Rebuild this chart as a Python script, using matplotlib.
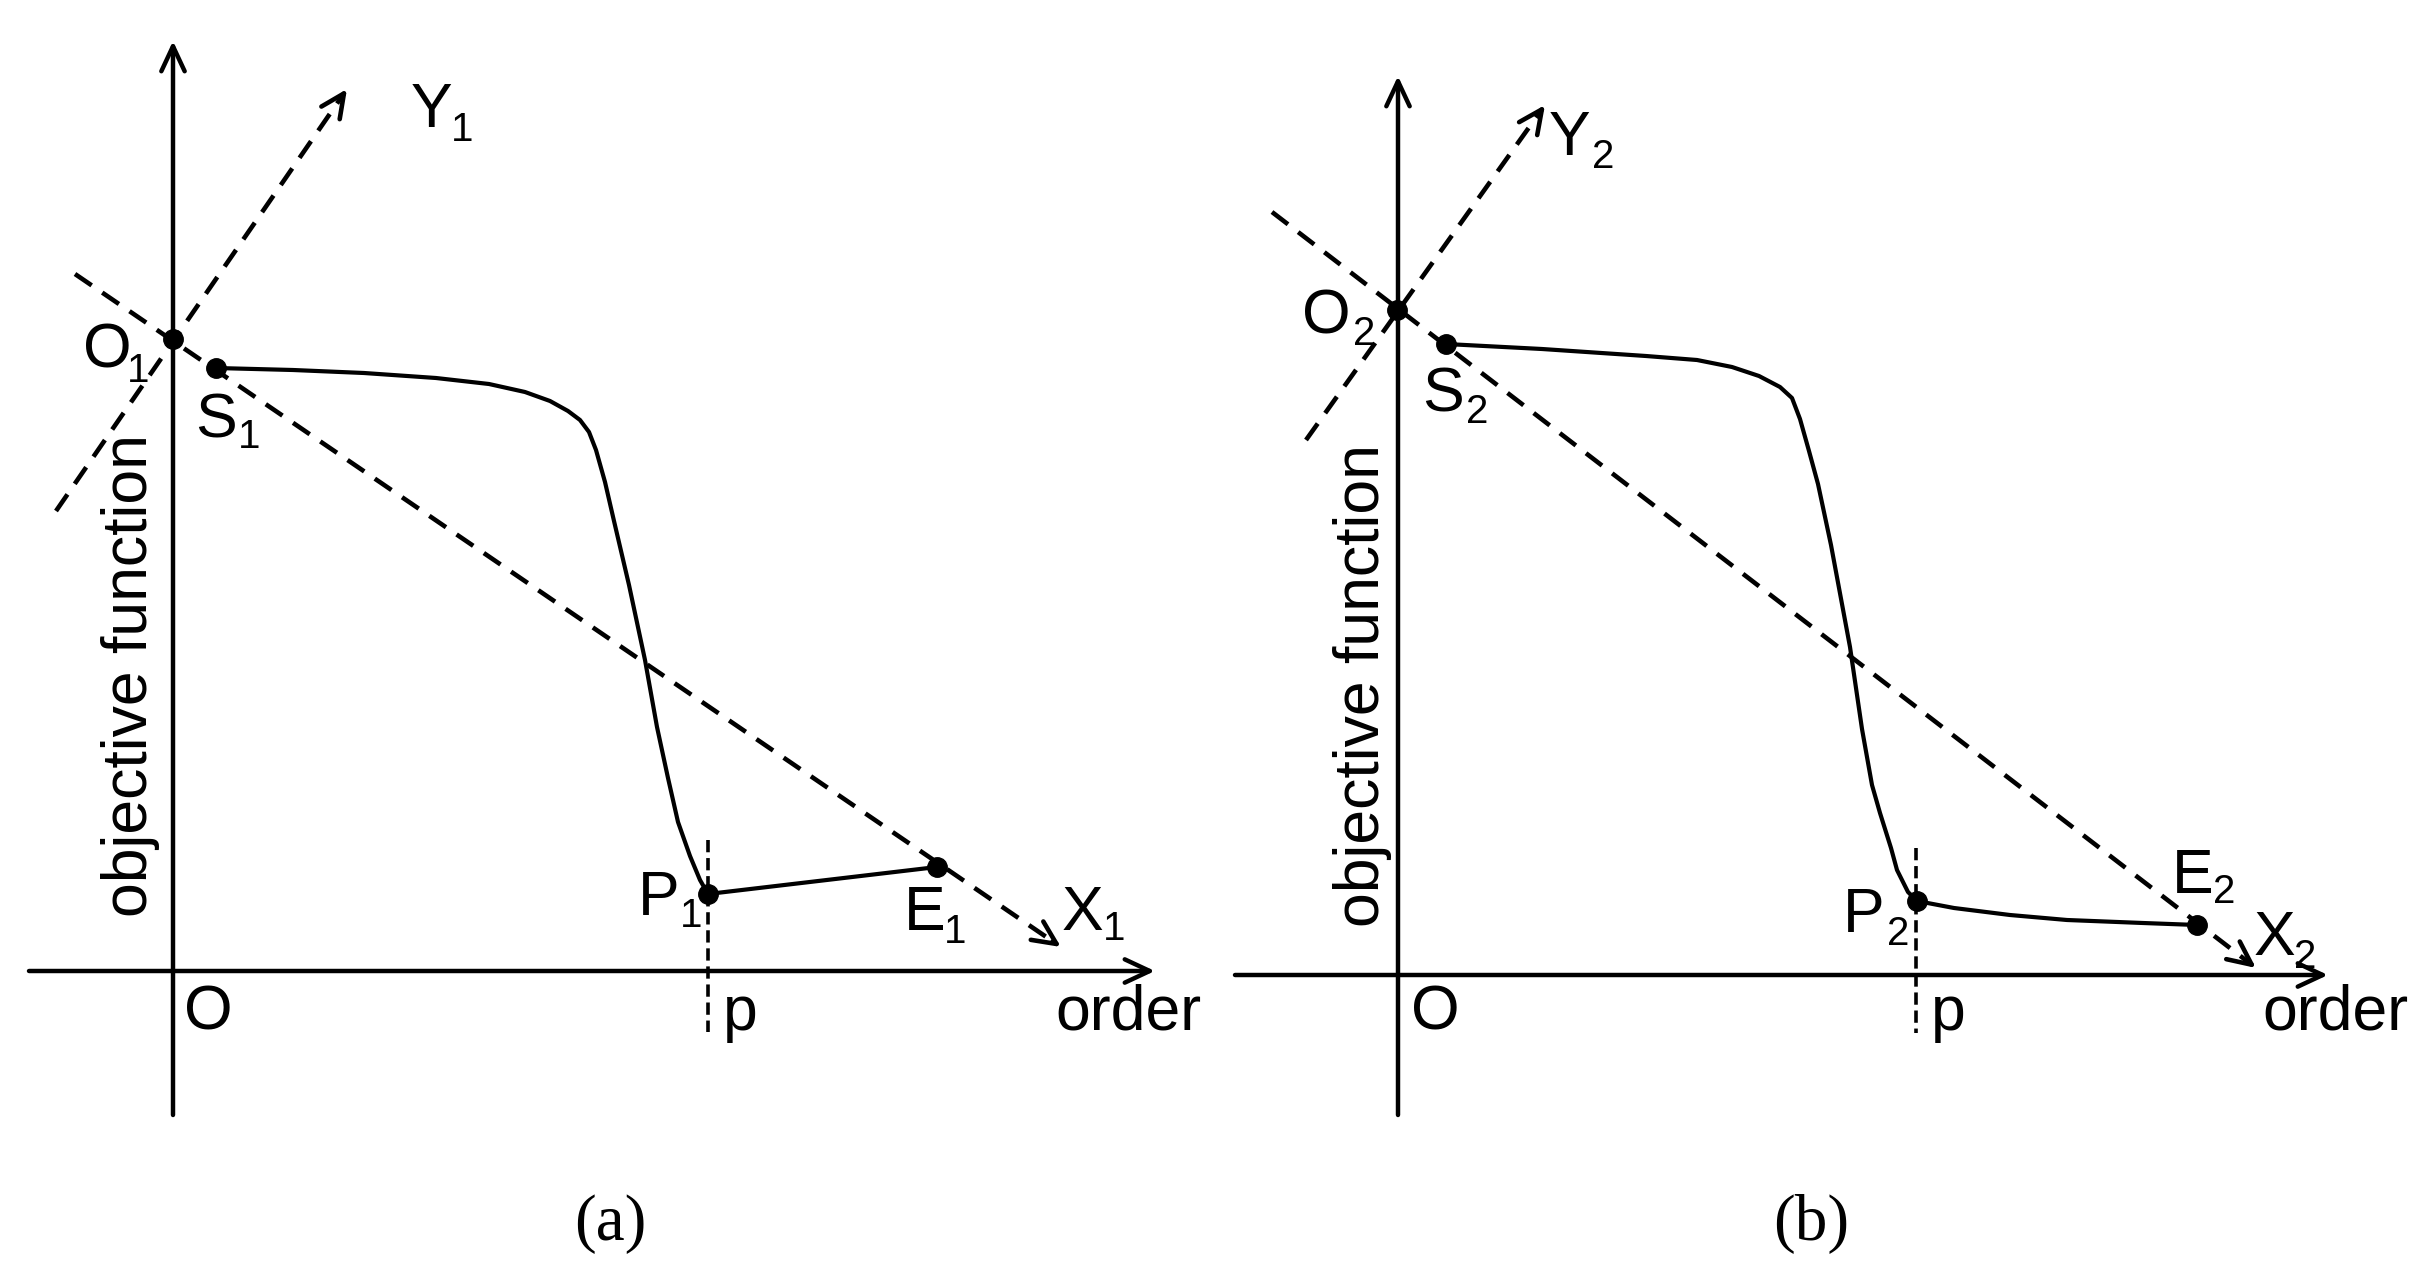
import numpy as np
import matplotlib
matplotlib.use('Agg')
import matplotlib.pyplot as plt

W, H = 2433, 1280

# ---------------- Panel (a) ----------------
a_yaxis_x = [173, 173]
a_yaxis_y = [1115, 41]
a_xaxis_x = [29, 1155]
a_xaxis_y = [971, 971]
a_X1_x = [75, 1061]
a_X1_y = [274, 947]
a_Y1_x = [56, 347]
a_Y1_y = [511, 89]
a_curve_x = [216, 293, 364, 436, 489, 525, 550, 568, 580, 589, 596, 605, 614,
             629, 645, 657, 668, 678, 690, 700, 708]
a_curve_y = [368, 370, 373, 378, 384, 392, 401, 411, 420, 432, 450, 482, 521,
             585, 660, 727, 778, 822, 856, 880, 894]
a_tail_x = [708, 937]
a_tail_y = [894, 867]
a_pline_x = [708, 708]
a_pline_y = [840, 1032]
a_pts_x = [173, 216, 708, 937]
a_pts_y = [339, 368, 894, 867]

# ---------------- Panel (b) ----------------
b_yaxis_x = [1398, 1398]
b_yaxis_y = [1115, 76]
b_xaxis_x = [1235, 2328]
b_xaxis_y = [975, 975]
b_X2_x = [1272, 2256]
b_X2_y = [212, 968]
b_Y2_x = [1306, 1545]
b_Y2_y = [440, 105]
b_curve_x = [1446, 1542, 1646, 1697, 1732, 1759, 1780, 1792, 1800, 1809, 1818,
             1831, 1850, 1862, 1872, 1880, 1891, 1897, 1908, 1917]
b_curve_y = [344, 349, 356, 360, 367, 376, 387, 398, 419, 451, 484,
             545, 647, 729, 785, 813, 848, 870, 892, 901]
b_tail_x = [1917, 1954, 2010, 2067, 2143, 2197]
b_tail_y = [901, 908, 915, 920, 923, 925]
b_pline_x = [1916, 1916]
b_pline_y = [848, 1033]
b_pts_x = [1397, 1446, 1917, 2197]
b_pts_y = [310, 344, 901, 925]

# ---------------- Labels ----------------
# (text, x, baseline-y, kind)
labels = [
    ("Y", 431, 127, "main"), ("1", 462, 141, "sub"),
    ("O", 107, 368, "main"), ("1", 138, 382, "sub"),
    ("S", 216, 437, "main"), ("1", 249, 448, "sub"),
    ("P", 659, 915, "main"), ("1", 691, 927, "sub"),
    ("E", 925, 930, "main"), ("1", 955, 943, "sub"),
    ("X", 1082, 930, "main"), ("1", 1114, 940, "sub"),
    ("Y", 1569, 155, "main"), ("2", 1603, 168, "sub"),
    ("O", 1326, 333, "main"), ("2", 1364, 345, "sub"),
    ("S", 1443, 412, "main"), ("2", 1477, 423, "sub"),
    ("P", 1864, 932, "main"), ("2", 1898, 945, "sub"),
    ("E", 2193, 893, "main"), ("2", 2224, 903, "sub"),
    ("X", 2274, 955, "main"), ("2", 2305, 968, "sub"),
    ("O", 208, 1030, "main"), ("p", 740, 1030, "main"),
    ("O", 1435, 1030, "main"), ("p", 1948, 1030, "main"),
]
order_labels = [("order", 1055, 1030), ("order", 2262, 1030)]
ylabels = [("objective function", 130, 676), ("objective function", 1363, 686)]
panel_labels = [("(a)", 610, 1240), ("(b)", 1811, 1240)]

SANS = ["Liberation Sans", "DejaVu Sans"]
SERIF = ["Liberation Serif", "DejaVu Serif"]
MAIN_FS = 45
SUB_FS = 29
AX_LW = 3.2
CURVE_LW = 3.0
DASH_LW = 3.3
DASH = (0, (4.4, 2.8))

fig = plt.figure(figsize=(W / 100, H / 100), dpi=100)
ax = fig.add_axes([0, 0, 1, 1])
ax.set_xlim(0, W)
ax.set_ylim(H, 0)
ax.axis('off')


def solid_arrow(xs, ys):
    ax.annotate('', xy=(xs[1], ys[1]), xytext=(xs[0], ys[0]),
                arrowprops=dict(arrowstyle='->,head_length=18,head_width=8.4',
                                mutation_scale=1, lw=AX_LW, color='black',
                                shrinkA=0, shrinkB=0))


def dashed_arrow(xs, ys):
    x0, y0, x1, y1 = xs[0], ys[0], xs[1], ys[1]
    d = np.hypot(x1 - x0, y1 - y0)
    ux, uy = (x1 - x0) / d, (y1 - y0) / d
    ax.plot([x0, x1 - ux * 6], [y0, y1 - uy * 6], color='black', lw=DASH_LW,
            linestyle=DASH, dash_capstyle='butt')
    ax.annotate('', xy=(x1, y1), xytext=(x1 - ux * 10, y1 - uy * 10),
                arrowprops=dict(arrowstyle='->,head_length=17,head_width=8',
                                mutation_scale=1, lw=DASH_LW, color='black',
                                shrinkA=0, shrinkB=0))


for yx, yy, xx, xy in [(a_yaxis_x, a_yaxis_y, a_xaxis_x, a_xaxis_y),
                       (b_yaxis_x, b_yaxis_y, b_xaxis_x, b_xaxis_y)]:
    solid_arrow(yx, yy)
    solid_arrow(xx, xy)

for xs, ys in [(a_X1_x, a_X1_y), (a_Y1_x, a_Y1_y), (b_X2_x, b_X2_y), (b_Y2_x, b_Y2_y)]:
    dashed_arrow(xs, ys)

for xs, ys in [(a_pline_x, a_pline_y), (b_pline_x, b_pline_y)]:
    ax.plot(xs, ys, color='black', lw=2.6, linestyle=(0, (3.4, 1.6)))

for xs, ys in [(a_curve_x, a_curve_y), (a_tail_x, a_tail_y),
               (b_curve_x, b_curve_y), (b_tail_x, b_tail_y)]:
    ax.plot(xs, ys, color='black', lw=CURVE_LW, solid_joinstyle='round',
            solid_capstyle='round')

for xs, ys in [(a_pts_x, a_pts_y), (b_pts_x, b_pts_y)]:
    ax.plot(xs, ys, 'o', color='black', markersize=14, linestyle='none', zorder=5)

for t, x, y, kind in labels:
    ax.text(x, y, t, ha='center', va='baseline', family=SANS,
            fontsize=MAIN_FS if kind == "main" else SUB_FS, zorder=6)

for t, x, y in order_labels:
    ax.text(x, y, t, ha='left', va='baseline', family=SANS, fontsize=MAIN_FS)

for t, x, y in ylabels:
    ax.text(x, y, t, ha='center', va='center', rotation=90, family=SANS,
            fontsize=MAIN_FS)

for t, x, y in panel_labels:
    ax.text(x, y, t, ha='center', va='baseline', family=SERIF, fontsize=47)

fig.savefig('out.png', dpi=100, facecolor='white')
